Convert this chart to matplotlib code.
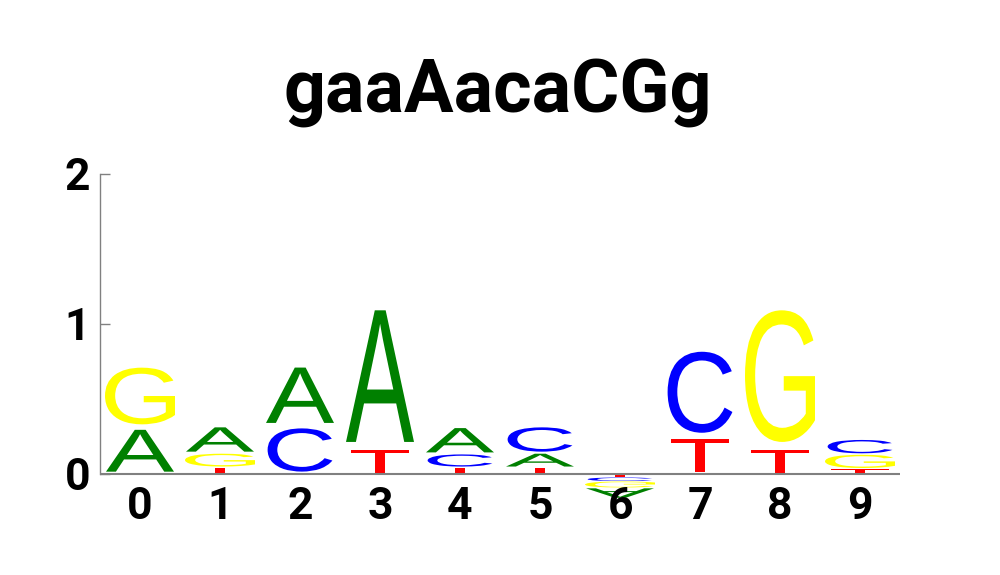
import matplotlib
matplotlib.use("Agg")
import matplotlib.pyplot as plt
from matplotlib.textpath import TextPath
from matplotlib.patches import PathPatch
from matplotlib.font_manager import FontProperties
from matplotlib.transforms import Affine2D

# ---- data -------------------------------------------------------------
title = "gaaAacaCGg"
positions = [0, 1, 2, 3, 4, 5, 6, 7, 8, 9]
letters = ["A", "C", "G", "T"]
A_vals = [0.31, 0.18, 0.41, 0.975, 0.18, 0.095, -0.07, 0.0, 0.0, 0.0]
C_vals = [0.0, 0.0, 0.32, 0.0, 0.09, 0.18, -0.026, 0.60, 0.0, 0.099]
G_vals = [0.42, 0.095, 0.0, 0.0, 0.0, 0.0, -0.044, 0.0, 0.975, 0.098]
T_vals = [0.0, 0.045, 0.0, 0.165, 0.045, 0.045, -0.022, 0.245, 0.165, 0.035]
y_ticks = [0, 1, 2]

# ---- style ------------------------------------------------------------
colors = {"A": "#008000", "C": "#0000FF", "G": "#FFFF00", "T": "#FF0000"}
widths = {"A": 0.85, "C": 0.81, "G": 0.875, "T": 0.725}
vpad = 0.1
glyph_font = FontProperties(family="Liberation Sans")
label_font = "Roboto"

values = {"A": A_vals, "C": C_vals, "G": G_vals, "T": T_vals}

fig = plt.figure(figsize=(10, 5.75), dpi=100)
ybot = -0.05
ax = fig.add_axes([0.1, (575 - (474 - ybot * 150)) / 575, 0.8, (2 - ybot) * 150 / 575])


def draw_glyph(ax, ch, x, floor, ceil, color, flip):
    p = TextPath((0, 0), ch, size=100, prop=glyph_font)
    ext = p.get_extents()
    h = ceil - floor
    pad = vpad / 2 * h
    y0, y1 = floor + pad, ceil - pad
    sx = widths[ch] / ext.width
    sy = (y1 - y0) / ext.height
    t = Affine2D().translate(-(ext.x0 + ext.width / 2), -(ext.y0 + ext.height / 2))
    if flip:
        t = t.scale(1, -1)
    t = t.scale(sx, sy).translate(x, (y0 + y1) / 2)
    patch = PathPatch(t.transform_path(p), facecolor=color, edgecolor="none",
                      linewidth=0, clip_on=False)
    ax.add_patch(patch)


for i, pos in enumerate(positions):
    pos_items = [(L, values[L][i]) for L in letters if values[L][i] > 0]
    neg_items = [(L, values[L][i]) for L in letters if values[L][i] < 0]
    pos_items.sort(key=lambda t: t[1])
    neg_items.sort(key=lambda t: -t[1])
    base = 0.0
    for L, v in pos_items:
        draw_glyph(ax, L, pos, base, base + v, colors[L], False)
        base += v
    base = 0.0
    for L, v in neg_items:
        draw_glyph(ax, L, pos, base + v, base, colors[L], True)
        base += v

ax.axhline(0, color="#808080", lw=1.5, zorder=3)
ax.set_xlim(-0.5, 9.5)
ax.set_ylim(ybot, 2.0)

for s in ["top", "right", "bottom"]:
    ax.spines[s].set_visible(False)
ax.spines["left"].set_color("#808080")
ax.spines["left"].set_linewidth(1.0)
ax.spines["left"].set_bounds(0, 2)

ax.set_xticks(positions)
ax.set_xticklabels([str(p) for p in positions], fontfamily=label_font,
                   fontweight="bold", fontsize=32)
ax.set_yticks(y_ticks)
ax.set_yticklabels([str(t) for t in y_ticks], fontfamily=label_font,
                   fontweight="bold", fontsize=32)
ax.tick_params(axis="x", length=0, pad=3.5)
ax.tick_params(axis="y", direction="in", length=7.5, width=1.0, color="#808080", pad=7)

fig.text(0.498, 1 - 112 / 575, title, ha="center", va="baseline",
         fontfamily=label_font, fontweight="bold", fontsize=53)

fig.savefig("out.png", dpi=100)
